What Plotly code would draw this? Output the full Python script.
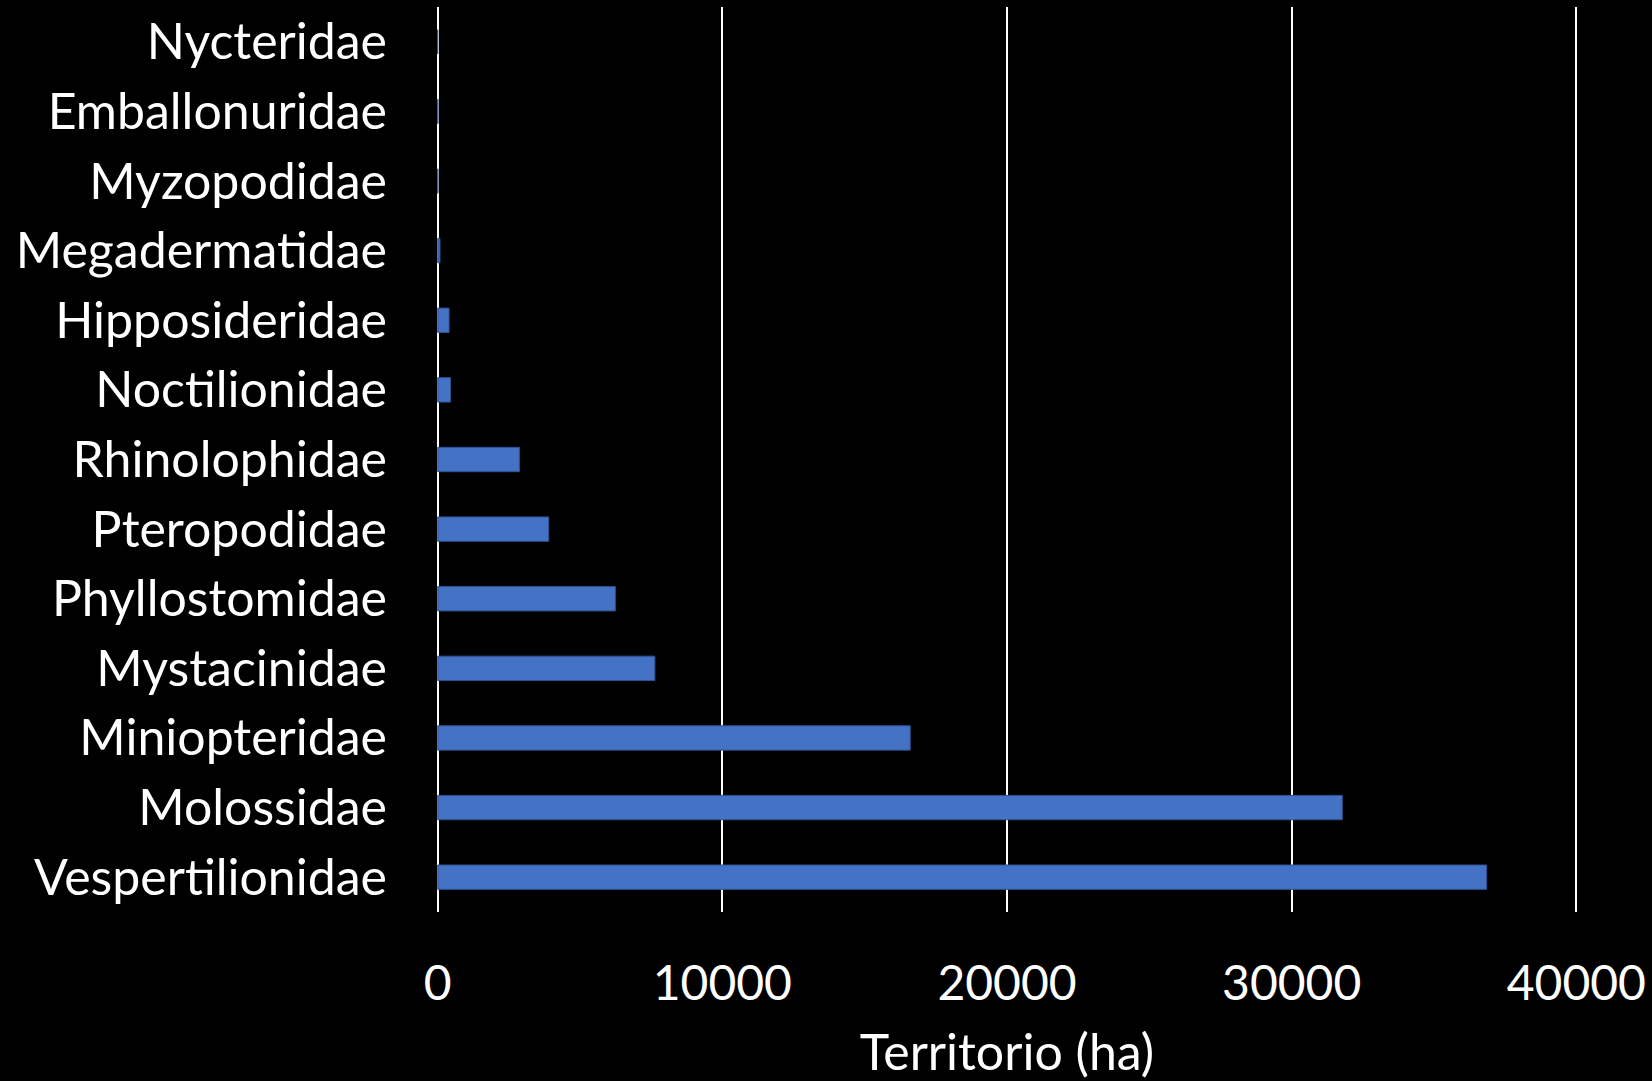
import plotly.graph_objects as go

families = ["Vespertilionidae", "Molossidae", "Miniopteridae", "Mystacinidae",
            "Phyllostomidae", "Pteropodidae", "Rhinolophidae", "Noctilionidae",
            "Hipposideridae", "Megadermatidae", "Myzopodidae", "Emballonuridae",
            "Nycteridae"]
territorio = [36850, 31780, 16600, 7630, 6240, 3900, 2870, 450, 400, 80, 10, 10, 0]

x_ticks = [0, 10000, 20000, 30000, 40000]

fig = go.Figure(go.Bar(
    x=territorio, y=families, orientation="h",
    marker=dict(color="#4472C4", line=dict(color="#2F528F", width=1)),
))

FONT = "Lato"
SIZE = 50
fig.update_layout(
    width=1652, height=1081,
    paper_bgcolor="black", plot_bgcolor="black",
    margin=dict(l=436, r=74, t=7, b=169),
    bargap=0.65,
    showlegend=False,
    font=dict(family=FONT, color="white", size=SIZE),
)
fig.update_xaxes(
    range=[-60, 40060], tickvals=x_ticks, ticktext=[str(v) for v in x_ticks],
    showgrid=True, gridcolor="white", gridwidth=2, zeroline=False,
    showline=False, ticks="", ticklabelstandoff=39,
    tickfont=dict(size=48, family=FONT, color="white"),
    title=dict(text="Territorio (ha)", font=dict(size=SIZE, family=FONT, color="white"), standoff=26),
)
fig.update_yaxes(
    showgrid=False, zeroline=False, showline=False, ticks="",
    ticklabelstandoff=48,
    tickfont=dict(size=SIZE, family=FONT, color="white"),
)
fig.write_html("out.html")
